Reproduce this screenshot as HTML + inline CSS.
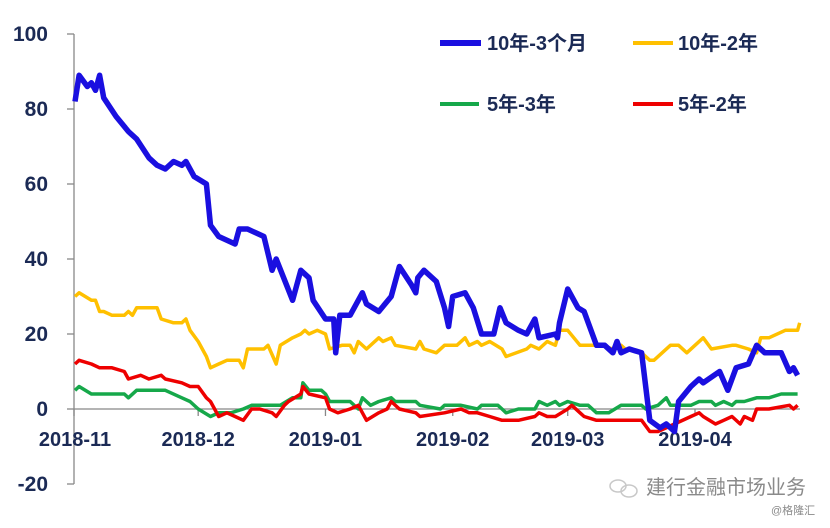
<!DOCTYPE html>
<html><head><meta charset="utf-8"><style>
body{margin:0;background:#fff;}
svg text{font-family:"Liberation Sans","Noto Sans CJK SC",sans-serif;}
</style></head><body>
<svg id="chart" width="830" height="523" xmlns="http://www.w3.org/2000/svg">
<g id="axes"></g>
<g id="series"></g>
<g font-size="20" font-weight="bold" fill="#1b2a55">
 <line x1="440" y1="43" x2="481" y2="43" stroke="#1a0fe0" stroke-width="6"/>
 <text x="487" y="50">10年-3个月</text>
 <line x1="633" y1="43" x2="673" y2="43" stroke="#ffc000" stroke-width="4"/>
 <text x="678" y="50">10年-2年</text>
 <line x1="440" y1="104" x2="479" y2="104" stroke="#16a84a" stroke-width="4"/>
 <text x="487" y="111">5年-3年</text>
 <line x1="633" y1="104" x2="673" y2="104" stroke="#ee0000" stroke-width="4"/>
 <text x="678" y="111">5年-2年</text>
</g>
<g fill="#8a8a8a">
 <g fill="none" stroke="#c8c8c8" stroke-width="1.5">
  <ellipse cx="618" cy="486" rx="8" ry="6"/><ellipse cx="629" cy="491" rx="8" ry="6"/>
 </g>
 <text x="646" y="494" font-size="20">建行金融市场业务</text>
 <text x="771" y="514" font-size="11">@格隆汇</text>
</g>
</svg>
<script>
const yTicks=[100,80,60,40,20,0,-20];
const monthLabels=["2018-11","2018-12","2019-01","2019-02","2019-03","2019-04"];
const monthDays=[0,30,61,92,120,151];
const blueDays=[0,1,3,4,5,6,7,10,13,15,18,20,22,24,26,27,29,32,33,35,39,40,42,44,46,48,49,53,55,57,58,61,63,63.5,64.5,67,70,71,74,77,79,82,83,83.5,85,88,90,91,92,95,97,99,101,102,103.5,105,108,110,112,113,117,117.5,118,120,122.5,124,127,129,131,132,133,135,138,139,140,142.5,144,146,147,150,152,153,157,159,161,164,166,168,172,174,175,176];
const blueVals=[82,89,86,87,85,89,83,78,74,72,67,65,64,66,65,66,62,60,49,46,44,48,48,47,46,37,40,29,37,35,29,24,24,15,25,25,31,28,26,30,38,33,31,35,37,34,27,22,30,31,27,20,20,20,27,23,21,20,24,19,20,19,23,32,27,26,17,17,15,18,15,16,15,6,-3,-5,-4,-6,2,6,8,7,10,5,11,12,17,15,15,10,11,9];
const yellowDays=[0,1,4,5,6,7,9,12,13,14,15,20,21,24,26,27,28,30,32,33,35,37,40,41,42,46,47,49,50,53,55,56,57,59,61,62,65,67,68,69,71,74,75,77,78,83,84,85,88,90,93,95,96,98,99,101,104,105,110,111,113,115,117,118,120,123,128,131,133,134,138,140,141,145,147,149,153,155,160,161,164,166,167,169,173,176,176.5];
const yellowVals=[30,31,29,29,26,26,25,25,26,25,27,27,24,23,23,24,21,18,14,11,12,13,13,11,16,16,17,12,17,19,20,21,20,21,20,16,17,17,15,18,16,19,18,19,17,16,18,16,15,17,17,19,17,18,17,18,16,14,16,17,16,18,17,21,21,17,17,16,17,16,15,13,13,17,17,15,19,16,17,17,16,15,19,19,21,21,23];
const greenDays=[0,1,4,5,12,13,15,22,26,28,30,33,35,38,41,43,48,50,53,55,55.5,57,60,61,62,67,69,70,72,74,77,78,83,84,89,90,94,98,99,101,103,104,105,108,112,113,115,117,118,120,123,125,127,130,133,138,139,142,144,145,150,152,155,156,158,160,161,163,166,169,172,176];
const greenVals=[5,6,4,4,4,3,5,5,3,2,0,-2,-1,-1,0,1,1,1,3,3,7,5,5,4,2,2,0,3,1,2,3,2,2,1,0,1,1,0,1,1,1,0,-1,0,0,2,1,2,1,2,1,1,-1,-1,1,1,0,1,3,1,1,2,2,1,2,1,2,2,3,3,4,4];
const redDays=[0,1,4,6,9,12,13,16,18,21,22,26,28,30,32,33,35,37,39,41,43,45,48,49,51,52,55,55.5,57,61,62,64,67,69,71,74,76,77,79,83,84,90,94,96,98,101,104,108,112,113,115,117,120,121,123,124,127,130,133,138,140,142,146,150,152,153,156,158,160,162,163,165,166,169,174,175,176];
const redVals=[12,13,12,11,11,10,8,9,8,9,8,7,6,6,3,2,-2,-1,-2,-3,0,0,-1,-2,1,2,4,6,4,3,0,-1,0,1,-3,-1,0,2,0,-1,-2,-1,0,-1,-1,-2,-3,-3,-2,-1,-2,-2,0,1,-1,-2,-3,-3,-3,-3,-6,-6,-4,-2,-1,-2,-4,-3,-2,-4,-2,-3,0,0,1,0,1];

const NS="http://www.w3.org/2000/svg";
const X0=75,PXD=(695-75)/151;
const xs=d=>X0+d*PXD;
const ys=v=>409-v*3.75;
const axes=document.getElementById('axes');
function mk(tag,attrs,parent){const e=document.createElementNS(NS,tag);for(const k in attrs)e.setAttribute(k,attrs[k]);parent.appendChild(e);return e;}
const yAxis=mk('line',{x1:74,y1:ys(100),x2:74,y2:ys(-20),stroke:'#888','stroke-width':1.3},axes);


yTicks.forEach(v=>{
  const t=mk('line',{x1:67,y1:ys(v),x2:74,y2:ys(v),stroke:'#888','stroke-width':1.3},axes);
  
  
  const l=mk('text',{x:48,y:ys(v)+7,'text-anchor':'end','font-size':21,'font-weight':'bold',fill:'#1b2a55'},axes);
  l.textContent=v;
  
  
});
const xAxis=mk('line',{x1:74,y1:ys(0),x2:800,y2:ys(0),stroke:'#888','stroke-width':1.3},axes);


monthDays.forEach((d,i)=>{
  const t=mk('line',{x1:xs(d)+(i==0?-1:0),y1:ys(0),x2:xs(d)+(i==0?-1:0),y2:ys(0)+7,stroke:'#888','stroke-width':1.3},axes);
  
  
  const l=mk('text',{x:xs(d),y:446,'text-anchor':'middle','font-size':20,'font-weight':'bold',fill:'#1b2a55'},axes);
  l.textContent=monthLabels[i];
  
  
});
const ser=document.getElementById('series');
function draw(days,vals,color,w,name){
  const p=mk('polyline',{points:days.map((d,i)=>xs(d).toFixed(1)+','+ys(vals[i]).toFixed(1)).join(' '),fill:'none',stroke:color,'stroke-width':w,'stroke-linejoin':'round'},ser);
  
  
}
draw(yellowDays,yellowVals,'#ffc000',3.5,'line-10y-2y');
draw(greenDays,greenVals,'#16a84a',3.5,'line-5y-3y');
draw(redDays,redVals,'#ee0000',3.5,'line-5y-2y');
draw(blueDays,blueVals,'#1a0fe0',5.5,'line-10y-3m');
</script>
</body></html>
